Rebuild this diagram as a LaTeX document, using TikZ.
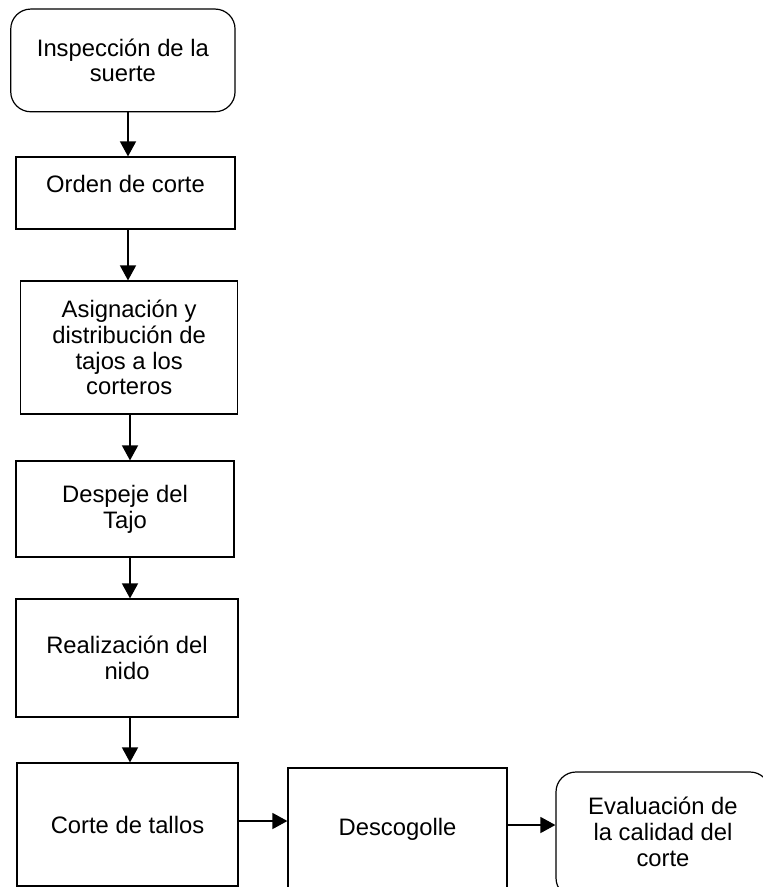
\documentclass[tikz,border=0pt]{standalone}
\usepackage{fontspec}
\setmainfont{Liberation Sans}
\usetikzlibrary{arrows.meta}
\begin{document}
\begin{tikzpicture}[x=1pt,y=-1pt,
  box/.style={draw, line width=1.2pt, rectangle, inner sep=0pt, align=center,
    font=\fontsize{23.8}{25.7}\selectfont},
  rbox/.style={box, rounded corners=20pt},
  txt/.style={align=center, inner sep=0pt, font=\fontsize{23.8}{25.7}\selectfont},
  flow/.style={line width=1.5pt, -{Triangle[length=15pt,width=16pt]}}]
\useasboundingbox (0,0) rectangle (763,887);
\clip (0,0) rectangle (763,887);
% boxes
\node[rbox, minimum width=224.3pt, minimum height=102.7pt] (b1) at (122.9,60.4)
  {Inspección de la\\suerte};
\node[box, minimum width=219pt, minimum height=72pt] (b2) at (125.5,193) {};
\node[txt] (t2) at (125.5,184) {Orden de corte};
\node[box, minimum width=217pt, minimum height=133pt] (b3) at (129.2,347.5)
  {Asignación y\\distribución de\\tajos a los\\corteros};
\node[box, minimum width=218pt, minimum height=96pt] (b4) at (125,509)
  {Despeje del\\Tajo};
\node[box, minimum width=222pt, minimum height=118pt] (b5) at (127,658)
  {Realización del\\nido};
\node[box, minimum width=221pt, minimum height=123pt] (b6) at (127.5,824.5)
  {Corte de tallos};
\node[box, minimum width=219pt, minimum height=132pt] (b7) at (397.5,834) {};
\node[txt] (t7) at (397.5,829) {Descogolle};
\node[rbox, minimum width=214pt, minimum height=126pt] (b8) at (663,835) {};
\node[txt] (t8) at (663,832) {Evaluación de\\la calidad del\\corte};
% connectors
\draw[flow] (b1.south -| 128,0) -- (b2.north -| 128,0);
\draw[flow] (b2.south -| 128,0) -- (b3.north -| 128,0);
\draw[flow] (b3.south -| 130,0) -- (b4.north -| 130,0);
\draw[flow] (b4.south -| 130,0) -- (b5.north -| 130,0);
\draw[flow] (b5.south -| 130,0) -- (b6.north -| 130,0);
\draw[flow] (b6.east |- 0,821) -- (b7.west |- 0,821);
\draw[flow] (b7.east |- 0,825) -- (b8.west |- 0,825);
\end{tikzpicture}
\end{document}
